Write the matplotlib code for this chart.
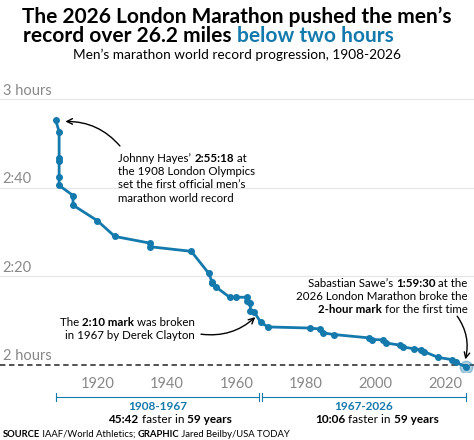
import matplotlib.pyplot as plt

# minutes past 2 hours
years = [1908, 1909, 1909, 1909, 1909, 1909, 1913, 1913, 1920, 1925, 1935, 1935,
         1947, 1952, 1953, 1953, 1954, 1958, 1960, 1963, 1963, 1964, 1964, 1965,
         1967, 1969, 1981, 1984, 1985, 1988, 1998, 1999, 2002, 2003, 2007, 2008,
         2011, 2013, 2014, 2018, 2022, 2023, 2026]
minutes = [55.30, 52.75, 46.87, 46.07, 42.52, 40.57, 38.27, 36.10, 32.58, 29.02,
           27.52, 26.70, 25.65, 20.70, 18.67, 18.58, 17.65, 15.28, 15.27, 15.26,
           14.47, 13.92, 12.18, 12.00, 9.60, 8.55, 8.30, 8.08, 7.20, 6.83, 6.08,
           5.70, 5.63, 4.92, 4.43, 3.98, 3.63, 3.38, 2.95, 1.65, 1.15, 0.58, -0.50]
ytick_vals = [60, 40, 20, 0]
ytick_labels = ['3 hours', '2:40', '2:20', '2 hours']
xtick_vals = [1920, 1940, 1960, 1980, 2000, 2020]

blue = '#1479ac'
grey = '#888888'
plt.rcParams['font.family'] = ['Lato', 'DejaVu Sans']

fig = plt.figure(figsize=(4.74, 4.4), dpi=100)
ax = fig.add_axes([0, 0.155, 1, 0.63])


def runs_line(x, y, runs, dy=0, ha='left', size=8.3, color='black', coords='data'):
    # runs: list of (text, bold) drawn next to each other on one line
    kw = dict(fontsize=size, color=color, annotation_clip=False)
    if ha == 'left':
        t = ax.annotate(runs[0][0], (x, y), xycoords=coords, xytext=(0, dy),
                        textcoords='offset points', ha='left', va='bottom',
                        fontweight='bold' if runs[0][1] else 'normal', **kw)
        for txt, b in runs[1:]:
            t = ax.annotate(txt, (1, 0), xycoords=t, ha='left', va='bottom',
                            fontweight='bold' if b else 'normal', **kw)
    else:
        t = ax.annotate(runs[-1][0], (x, y), xycoords=coords, xytext=(0, dy),
                        textcoords='offset points', ha='right', va='bottom',
                        fontweight='bold' if runs[-1][1] else 'normal', **kw)
        for txt, b in runs[-2::-1]:
            t = ax.annotate(txt, (0, 0), xycoords=t, ha='right', va='bottom',
                            fontweight='bold' if b else 'normal', **kw)


ax.set_xlim(1892, 2028.3)
ax.set_ylim(-1.6, 61.1)
for s in ax.spines.values():
    s.set_visible(False)
ax.set_yticks([])
ax.set_xticks(xtick_vals)
ax.set_xticklabels([str(v) for v in xtick_vals], color=grey, fontsize=10.5)
ax.tick_params(axis='x', length=0, pad=4)

for v, lab in zip(ytick_vals, ytick_labels):
    if v == 0:
        ax.axhline(v, color='#444444', lw=1.3, ls=(0, (3, 2)), zorder=1)
    else:
        ax.axhline(v, color='#e6e6e6', lw=0.8, zorder=0)
    ax.text(1892.8, v + 0.4, lab, color=grey, fontsize=10.5, va='bottom', ha='left')

ax.plot(years, minutes, color=blue, lw=2, marker='o', ms=4, zorder=3)
ax.plot(years[-1], minutes[-1], 'o', color=blue, ms=9, alpha=0.35, zorder=2)

ax.annotate('', xy=(1910, 55), xytext=(1927, 49),
            arrowprops=dict(arrowstyle='->', color='black', lw=1,
                            connectionstyle='arc3,rad=0.25'))
hayes = [[("Johnny Hayes\u2019 ", False), ("2:55:18", True), (" at", False)],
         [("the 1908 London Olympics", False)],
         [("set the first official men\u2019s", False)],
         [("marathon world record", False)]]
for i, ln in enumerate(hayes):
    runs_line(1926, 45.5, ln, dy=-i * 9.6)

ax.annotate('', xy=(1966, 11.2), xytext=(1949, 7.0),
            arrowprops=dict(arrowstyle='->', color='black', lw=1,
                            connectionstyle='arc3,rad=0.25'))
clay = [[("The ", False), ("2:10 mark", True), (" was broken", False)],
        [("in 1967 by Derek Clayton", False)]]
for i, ln in enumerate(clay):
    runs_line(1948, 8.4, ln, dy=-i * 9.6, ha='right')

ax.annotate('', xy=(2025.6, 0.6), xytext=(2023, 11.5),
            arrowprops=dict(arrowstyle='->', color='black', lw=1,
                            connectionstyle='arc3,rad=-0.25'))
sawe = [[("Sabastian Sawe\u2019s ", False), ("1:59:30", True), (" at the", False)],
        [("2026 London Marathon broke the", False)],
        [("2-hour mark", True), (" for the first time", False)]]
for i, ln in enumerate(sawe):
    runs_line(2026.5, 17.2, ln, dy=-i * 9.6, ha='right')

# period brackets
by = -7.3
for x0, x1, head, sub in [(1908, 1966.6, '1908-1967', '45:42'),
                          (1967.4, 2026, '1967-2026', '10:06')]:
    ax.plot([x0, x1], [by, by], color=blue, lw=0.8, clip_on=False)
    for xe in (x0, x1):
        ax.plot([xe, xe], [by - 0.9, by + 0.9], color=blue, lw=0.8, clip_on=False)
    xm = (x0 + x1) / 2
    ax.text(xm, by - 0.8, head, color=blue, fontsize=8.5, fontweight='bold',
            ha='center', va='top', clip_on=False)
    mid = ax.text(xm + 1.5, by - 6.4, " faster in ", fontsize=8.5, ha='center',
                  va='bottom', clip_on=False)
    ax.annotate(sub, (0, 0), xycoords=mid, ha='right', va='bottom', fontsize=8.5,
                fontweight='bold', annotation_clip=False)
    ax.annotate("59 years", (1, 0), xycoords=mid, ha='left', va='bottom',
                fontsize=8.5, fontweight='bold', annotation_clip=False)

fig.text(0.5, 0.985, "The 2026 London Marathon pushed the men\u2019s",
         fontsize=15, fontweight='bold', ha='center', va='top')
fig.text(0.5, 0.94, "record over 26.2 miles ", fontsize=15, fontweight='bold',
         ha='right', va='top')
fig.text(0.5, 0.94, "below two hours", fontsize=15, fontweight='bold',
         ha='left', va='top', color=blue)
fig.text(0.5, 0.89, "Men\u2019s marathon world record progression, 1908-2026",
         fontsize=9.8, ha='center', va='top')
src = fig.text(0.005, 0.002, "SOURCE", fontsize=6.8, fontweight='bold', ha='left', va='bottom')
a = plt.annotate(" IAAF/World Athletics; ", (1, 0), xycoords=src, fontsize=6.8,
                 ha='left', va='bottom')
a = plt.annotate("GRAPHIC", (1, 0), xycoords=a, fontsize=6.8, fontweight='bold',
                 ha='left', va='bottom')
plt.annotate(" Jared Beilby/USA TODAY", (1, 0), xycoords=a, fontsize=6.8,
             ha='left', va='bottom')

fig.savefig('out.png', dpi=100)
